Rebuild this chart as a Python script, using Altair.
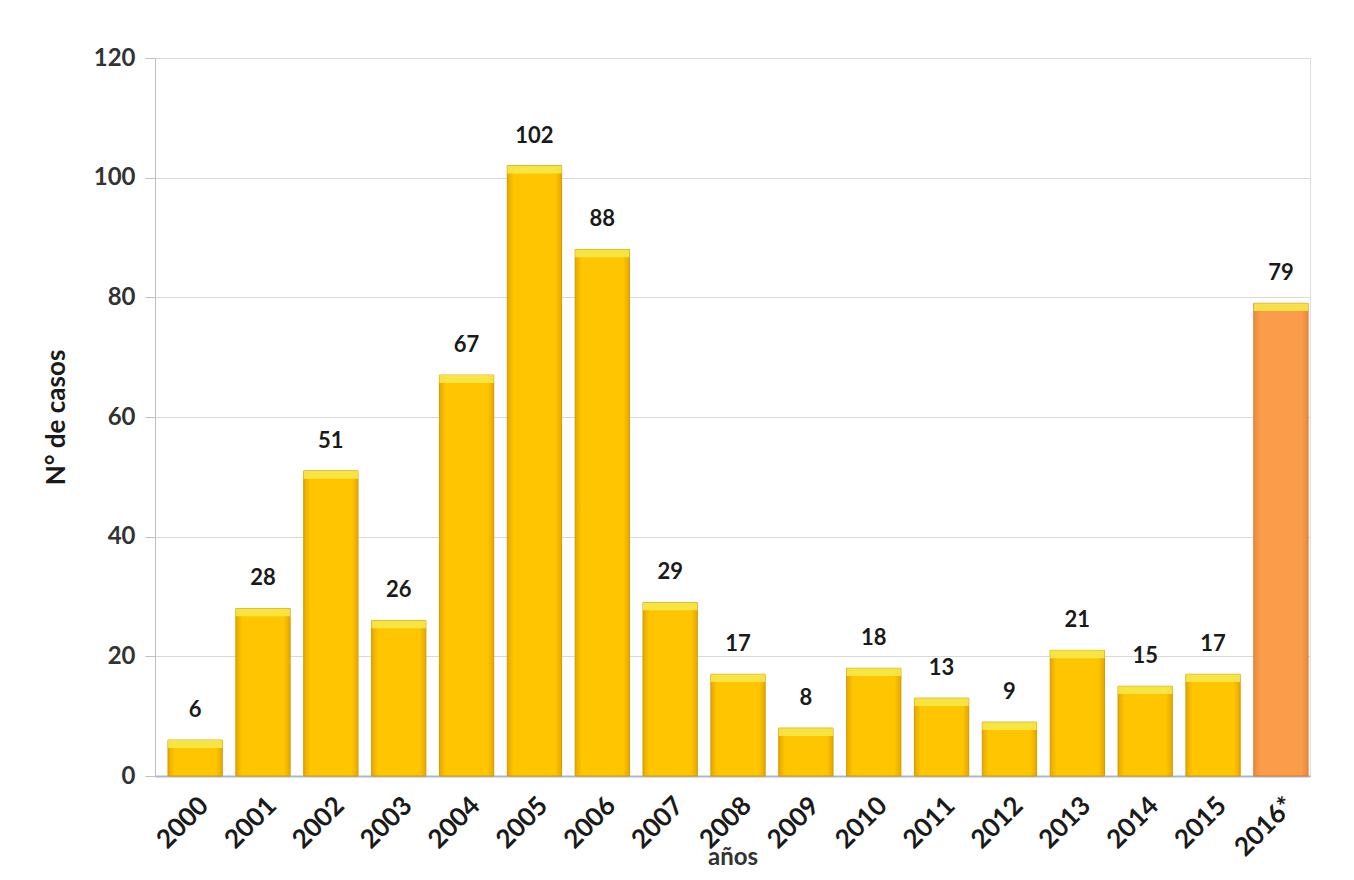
import altair as alt
import pandas as pd

years = ["2000", "2001", "2002", "2003", "2004", "2005", "2006", "2007", "2008",
         "2009", "2010", "2011", "2012", "2013", "2014", "2015", "2016*"]
cases = [6, 28, 51, 26, 67, 102, 88, 29, 17, 8, 18, 13, 9, 21, 15, 17, 79]
y_ticks = [0, 20, 40, 60, 80, 100, 120]

df = pd.DataFrame({"year": years, "cases": cases})

FONT = "Lato"

yellow_grad = alt.Gradient(
    gradient="linear", x1=0, x2=1, y1=0, y2=0,
    stops=[alt.GradientStop(color="#E6A800", offset=0),
           alt.GradientStop(color="#FFC600", offset=0.12),
           alt.GradientStop(color="#FFC600", offset=0.88),
           alt.GradientStop(color="#E6A800", offset=1)])
orange_grad = alt.Gradient(
    gradient="linear", x1=0, x2=1, y1=0, y2=0,
    stops=[alt.GradientStop(color="#EA8A3C", offset=0),
           alt.GradientStop(color="#FA9C4A", offset=0.12),
           alt.GradientStop(color="#FA9C4A", offset=0.88),
           alt.GradientStop(color="#EA8A3C", offset=1)])

x_scale = alt.Scale(paddingInner=0.2, paddingOuter=0.11, align=0.87)
x_enc = alt.X("year:N", sort=years, scale=x_scale,
              axis=alt.Axis(title="años", labelAngle=-45, labelFontSize=26,
                            labelFontWeight="bold", labelColor="#1a1a1a",
                            labelFont=FONT, titleFont=FONT, titleFontSize=24,
                            titleFontWeight="bold", titleColor="#333333",
                            titlePadding=-15, ticks=False, labelPadding=16,
                            domainColor="#A9B8CF", domainWidth=2, grid=False))
y_scale = alt.Scale(domain=[0, 120])
y_enc = alt.Y("cases:Q", scale=y_scale,
              axis=alt.Axis(title="N° de casos", values=y_ticks, labelFontSize=24,
                            labelFontWeight="bold", labelColor="#333333",
                            labelFont=FONT, titleFont=FONT, titleFontSize=26,
                            titleFontWeight="bold", titleColor="#1a1a1a",
                            titlePadding=24, tickSize=10, tickColor="#BFBFBF",
                            domainColor="#BFBFBF", gridColor="#D9D9D9",
                            labelPadding=10))

base = alt.Chart(df)

bars_y = base.transform_filter(alt.datum.year != "2016*").mark_bar(
    fill=yellow_grad, stroke="#D49A00", strokeWidth=1).encode(x=x_enc, y=y_enc)
bars_o = base.transform_filter(alt.datum.year == "2016*").mark_bar(
    fill=orange_grad, stroke="#D97A30", strokeWidth=1).encode(x=x_enc, y=y_enc)

caps = base.transform_calculate(cap="datum.cases - 1.3").mark_bar(
    color="#F6E84A", opacity=0.9).encode(
    x=alt.X("year:N", sort=years, scale=x_scale),
    y=alt.Y("cases:Q", scale=y_scale), y2="cap:Q")

labels = base.mark_text(baseline="bottom", dy=-18, fontSize=22, fontWeight="bold",
                        font=FONT, color="#1a1a1a").encode(
    x=alt.X("year:N", sort=years, scale=x_scale),
    y=alt.Y("cases:Q", scale=y_scale),
    text="cases:Q")

chart = alt.layer(bars_y, bars_o, caps, labels).properties(
    width=1155, height=718,
    autosize=alt.AutoSizeParams(type="none"),
    padding={"left": 155, "top": 58, "right": 44, "bottom": 104},
).configure_view(stroke=None).configure(background="white")

chart.save("out.html", embed_options={"renderer": "svg", "actions": False})
